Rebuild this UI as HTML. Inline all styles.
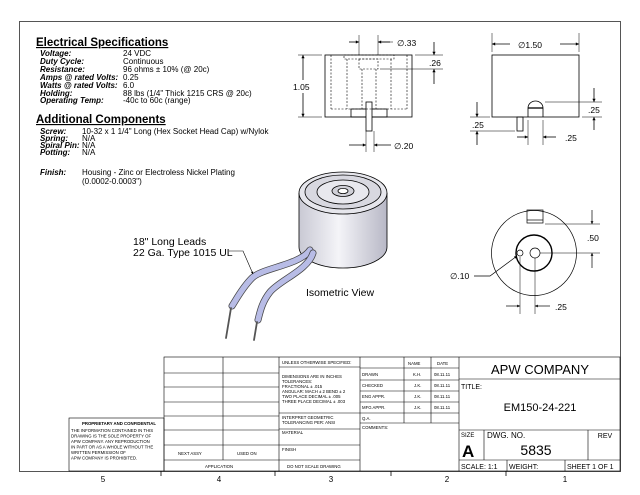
<!DOCTYPE html>
<html><head><meta charset="utf-8"><style>
html,body{margin:0;padding:0;background:#fff}
svg{display:block}
text{font-family:"Liberation Sans",sans-serif;fill:#000}
</style></head><body>
<svg width="640" height="495" viewBox="0 0 640 495" xmlns="http://www.w3.org/2000/svg">
<defs>
<marker id="a" viewBox="0 0 10 10" refX="10" refY="5" markerWidth="6" markerHeight="4" orient="auto-start-reverse"><path d="M0,0L10,5L0,10z" fill="#000"/></marker>
<linearGradient id="cyl" x1="0" x2="1"><stop offset="0" stop-color="#c9c9d4"/><stop offset="0.45" stop-color="#f4f4f8"/><stop offset="1" stop-color="#b8b8c6"/></linearGradient>
</defs>
<!-- border -->
<rect x="19.5" y="21.5" width="601" height="450" fill="none" stroke="#555" stroke-width="1"/>
<g stroke="#000" stroke-width="0.8">
<line x1="161" y1="471" x2="161" y2="476"/><line x1="275" y1="471" x2="275" y2="476"/><line x1="391" y1="471" x2="391" y2="476"/><line x1="506" y1="471" x2="506" y2="476"/>
</g>
<g font-size="8" text-anchor="middle">
<text x="103" y="482">5</text><text x="219" y="482">4</text><text x="331" y="482">3</text><text x="447" y="482">2</text><text x="565" y="482">1</text>
</g>

<!-- specs text -->
<g font-size="8">
<text x="36" y="46" font-size="11.5" font-weight="bold" text-decoration="underline">Electrical Specifications</text>
<g font-weight="bold" font-style="italic">
<text x="40" y="56">Voltage:</text><text x="40" y="64">Duty Cycle:</text><text x="40" y="72">Resistance:</text><text x="40" y="80">Amps @ rated Volts:</text><text x="40" y="88">Watts @ rated Volts:</text><text x="40" y="96">Holding:</text><text x="40" y="103">Operating Temp:</text>
</g>
<text x="123" y="56">24 VDC</text><text x="123" y="64">Continuous</text><text x="123" y="72">96 ohms ± 10% (@ 20c)</text><text x="123" y="80">0.25</text><text x="123" y="88">6.0</text><text x="123" y="96">88 lbs (1/4" Thick 1215 CRS @ 20c)</text><text x="123" y="103">-40c to 60c (range)</text>
<text x="36" y="123" font-size="11.5" font-weight="bold" text-decoration="underline">Additional Components</text>
<g font-weight="bold" font-style="italic">
<text x="40" y="134">Screw:</text><text x="40" y="141">Spring:</text><text x="40" y="148">Spiral Pin:</text><text x="40" y="155">Potting:</text><text x="40" y="175">Finish:</text>
</g>
<text x="82" y="134">10-32 x 1 1/4" Long (Hex Socket Head Cap) w/Nylok</text><text x="82" y="141">N/A</text><text x="82" y="148">N/A</text><text x="82" y="155">N/A</text>
<text x="82" y="175">Housing - Zinc or Electroless Nickel Plating</text><text x="82" y="184">(0.0002-0.0003")</text>
</g>

<!-- front view -->
<g fill="none" stroke="#000" stroke-width="0.8">
<rect x="325" y="55" width="87" height="62"/>
<rect x="351" y="109" width="36" height="8"/>
<rect x="366" y="102" width="6" height="29" fill="#fff"/>
<g stroke-dasharray="2,1.5" stroke-width="0.6">
<line x1="331" y1="55" x2="331" y2="109"/><line x1="407" y1="55" x2="407" y2="109"/>
<line x1="331" y1="109" x2="407" y2="109"/>
<rect x="344" y="55" width="50" height="4"/>
<line x1="347" y1="59" x2="347" y2="109"/><line x1="391" y1="59" x2="391" y2="109"/>
<rect x="359" y="59" width="19" height="10"/>
<line x1="362" y1="69" x2="362" y2="109"/><line x1="376" y1="69" x2="376" y2="109"/>
</g>
<line x1="359" y1="35" x2="359" y2="55" stroke-width="0.5"/><line x1="378" y1="35" x2="378" y2="55" stroke-width="0.5"/>
<line x1="349" y1="42" x2="359" y2="42" marker-end="url(#a)"/><line x1="390" y1="42" x2="378" y2="42" marker-end="url(#a)"/>
<line x1="378" y1="42" x2="393" y2="42" stroke-width="0.5"/>
<line x1="298" y1="55" x2="322" y2="55" stroke-width="0.5"/><line x1="298" y1="117" x2="322" y2="117" stroke-width="0.5"/>
<line x1="303" y1="80" x2="303" y2="55" marker-end="url(#a)"/><line x1="303" y1="93" x2="303" y2="117" marker-end="url(#a)"/>
<line x1="415" y1="55" x2="443" y2="55" stroke-width="0.5"/><line x1="380" y1="69" x2="443" y2="69" stroke-width="0.5"/>
<line x1="434" y1="42" x2="434" y2="55" marker-end="url(#a)"/><line x1="434" y1="84" x2="434" y2="69" marker-end="url(#a)"/>
<line x1="366" y1="131" x2="366" y2="152" stroke-width="0.5"/><line x1="374" y1="131" x2="374" y2="152" stroke-width="0.5"/>
<line x1="349" y1="145" x2="366" y2="145" marker-end="url(#a)"/><line x1="391" y1="145" x2="374" y2="145" marker-end="url(#a)"/>
</g>
<g font-size="8.5">
<text x="397" y="46">∅.33</text><text x="293" y="90">1.05</text><text x="429" y="66">.26</text><text x="394" y="149">∅.20</text>
</g>

<!-- side view -->
<g fill="none" stroke="#000" stroke-width="0.8">
<rect x="492" y="55" width="87" height="62"/>
<path d="M528,117 V108 A7.5,7 0 0 1 543,108 V117"/><line x1="528" y1="108" x2="543" y2="108" stroke-width="1.3"/>
<rect x="517" y="117" width="6" height="14"/>
<line x1="492" y1="33" x2="492" y2="52" stroke-width="0.5"/><line x1="579" y1="33" x2="579" y2="52" stroke-width="0.5"/>
<line x1="510" y1="44" x2="492" y2="44" marker-end="url(#a)"/><line x1="560" y1="44" x2="579" y2="44" marker-end="url(#a)"/>
<line x1="545" y1="102" x2="602" y2="102" stroke-width="0.5"/>
<line x1="594" y1="88" x2="594" y2="102" marker-end="url(#a)"/><line x1="594" y1="130" x2="594" y2="117" marker-end="url(#a)"/>
<line x1="582" y1="117" x2="602" y2="117" stroke-width="0.5"/>
<line x1="470" y1="131" x2="515" y2="131" stroke-width="0.5"/><line x1="470" y1="117" x2="490" y2="117" stroke-width="0.5"/>
<line x1="477" y1="102" x2="477" y2="117" marker-end="url(#a)"/><line x1="477" y1="145" x2="477" y2="131" marker-end="url(#a)"/>
<line x1="528" y1="120" x2="528" y2="145" stroke-width="0.5"/><line x1="543" y1="120" x2="543" y2="145" stroke-width="0.5"/>
<line x1="517" y1="137" x2="528" y2="137" marker-end="url(#a)"/><line x1="556" y1="137" x2="543" y2="137" marker-end="url(#a)"/>
</g>
<g font-size="8.5"><text x="518" y="48">∅1.50</text><text x="588" y="113">.25</text><text x="472" y="128">.25</text><text x="565" y="141">.25</text></g>

<!-- bottom view -->
<g fill="none" stroke="#000" stroke-width="0.7">
<circle cx="534" cy="253" r="42.5"/>
<circle cx="534" cy="253" r="18" stroke-width="1.4"/>
<circle cx="535" cy="253" r="5"/>
<circle cx="520" cy="253" r="3"/>
<rect x="527" y="210" width="16" height="13"/><line x1="527" y1="220" x2="543" y2="220"/>
<line x1="545" y1="224" x2="600" y2="224" stroke-width="0.5"/><line x1="540" y1="253" x2="600" y2="253" stroke-width="0.5"/>
<line x1="592" y1="210" x2="592" y2="224" marker-end="url(#a)"/><line x1="592" y1="268" x2="592" y2="253" marker-end="url(#a)"/>
<line x1="520" y1="257" x2="520" y2="314" stroke-width="0.5"/><line x1="535" y1="258" x2="535" y2="314" stroke-width="0.5"/>
<line x1="506" y1="306" x2="520" y2="306" marker-end="url(#a)"/><line x1="550" y1="306" x2="535" y2="306" marker-end="url(#a)"/>
<path d="M474,276 H490 L517,256" marker-end="url(#a)"/>
</g>
<g font-size="8.5"><text x="587" y="241">.50</text><text x="450" y="279">∅.10</text><text x="555" y="310">.25</text></g>

<!-- isometric -->
<g stroke="#000" stroke-width="0.8">
<path d="M299,193 V247 A44,21 0 0 0 387,247 V193" fill="url(#cyl)"/>
<ellipse cx="343" cy="193" rx="44" ry="21" fill="#e6e6ec"/>
<ellipse cx="343" cy="192" rx="38" ry="17" fill="#d8d8e0"/>
<ellipse cx="343" cy="192" rx="26" ry="12" fill="#e8e8ee"/>
<ellipse cx="343" cy="191" rx="11" ry="5.5" fill="#d0d0d8"/>
<ellipse cx="343" cy="191" rx="5" ry="2.6" fill="#fff"/>
</g>
<g fill="none" stroke-linecap="round">
<path d="M310,250 C300,265 262,268 252,278 C242,288 236,300 232,306" stroke="#444" stroke-width="7"/>
<path d="M310,250 C300,265 262,268 252,278 C242,288 236,300 232,306" stroke="#b8bce6" stroke-width="5.5"/>
<path d="M313,253 C308,270 280,280 270,292 C262,302 260,312 258,320" stroke="#444" stroke-width="7"/>
<path d="M313,253 C308,270 280,280 270,292 C262,302 260,312 258,320" stroke="#b8bce6" stroke-width="5.5"/>
<line x1="231" y1="308" x2="226" y2="338" stroke="#555" stroke-width="1.8"/>
<line x1="257" y1="322" x2="254" y2="340" stroke="#555" stroke-width="1.8"/>
</g>
<path d="M229,251 H243 L253,274" fill="none" stroke="#000" stroke-width="0.6" marker-end="url(#a)"/>
<g font-size="10.5"><text x="133" y="245">18" Long Leads</text><text x="133" y="256">22 Ga. Type 1015 UL</text><text x="306" y="296">Isometric View</text></g>

<!-- title block -->
<g fill="none" stroke="#000" stroke-width="0.6">
<rect x="164" y="357" width="456" height="114"/>
<rect x="69" y="418" width="95" height="53"/>
<line x1="223" y1="357" x2="223" y2="460"/>
<line x1="279" y1="357" x2="279" y2="471"/>
<line x1="360" y1="357" x2="360" y2="471"/>
<line x1="459" y1="357" x2="459" y2="471"/>
<line x1="164" y1="373" x2="279" y2="373"/><line x1="164" y1="387" x2="279" y2="387"/><line x1="164" y1="402" x2="279" y2="402"/><line x1="164" y1="416" x2="279" y2="416"/><line x1="164" y1="430" x2="279" y2="430"/><line x1="164" y1="445" x2="279" y2="445"/><line x1="164" y1="460" x2="279" y2="460"/>
<line x1="279" y1="367" x2="360" y2="367"/><line x1="279" y1="413" x2="360" y2="413"/><line x1="279" y1="429" x2="360" y2="429"/><line x1="279" y1="445" x2="360" y2="445"/><line x1="279" y1="460" x2="360" y2="460"/>
<line x1="404" y1="357" x2="404" y2="423"/><line x1="431" y1="357" x2="431" y2="423"/>
<line x1="360" y1="368" x2="459" y2="368"/><line x1="360" y1="380" x2="459" y2="380"/><line x1="360" y1="391" x2="459" y2="391"/><line x1="360" y1="402" x2="459" y2="402"/><line x1="360" y1="413" x2="459" y2="413"/><line x1="360" y1="423" x2="459" y2="423"/>
<line x1="459" y1="379" x2="620" y2="379"/><line x1="459" y1="430" x2="620" y2="430"/><line x1="459" y1="460" x2="620" y2="460"/>
<line x1="484" y1="430" x2="484" y2="460"/><line x1="588" y1="430" x2="588" y2="460"/>
<line x1="507" y1="460" x2="507" y2="471"/><line x1="565" y1="460" x2="565" y2="471"/>
</g>
<g font-size="4.3">
<text x="82" y="425" font-weight="bold">PROPRIETARY AND CONFIDENTIAL</text>
<text x="71" y="432">THE INFORMATION CONTAINED IN THIS</text><text x="71" y="437.5">DRAWING IS THE SOLE PROPERTY OF</text><text x="71" y="443">APW COMPANY.  ANY REPRODUCTION</text><text x="71" y="448.5">IN PART OR AS A WHOLE WITHOUT THE</text><text x="71" y="454">WRITTEN PERMISSION OF</text><text x="71" y="459.5">APW COMPANY IS PROHIBITED.</text>
<text x="178" y="455">NEXT ASSY</text><text x="237" y="455">USED ON</text><text x="205" y="468">APPLICATION</text>
<text x="282" y="364">UNLESS OTHERWISE SPECIFIED:</text>
<text x="282" y="378">DIMENSIONS ARE IN INCHES</text><text x="282" y="383">TOLERANCES:</text><text x="282" y="388">FRACTIONAL ± .015</text><text x="282" y="393">ANGULAR: MACH ± 2   BEND ± 2</text><text x="282" y="398">TWO PLACE DECIMAL   ± .005</text><text x="282" y="403">THREE PLACE DECIMAL  ± .003</text>
<text x="282" y="419">INTERPRET GEOMETRIC</text><text x="282" y="424">TOLERANCING PER: ANSI</text>
<text x="282" y="434">MATERIAL</text><text x="282" y="451">FINISH</text><text x="287" y="468">DO NOT SCALE DRAWING</text>
<text x="408" y="365">NAME</text><text x="437" y="365">DATE</text>
<text x="362" y="376">DRAWN</text><text x="362" y="387">CHECKED</text><text x="362" y="398">ENG APPR.</text><text x="362" y="409">MFG APPR.</text><text x="362" y="420">Q.A.</text><text x="362" y="429">COMMENTS:</text>
<text x="413" y="376">K.H.</text><text x="414" y="387">J.K.</text><text x="414" y="398">J.K.</text><text x="414" y="409">J.K.</text>
<text x="434" y="376">08.11.11</text><text x="434" y="387">08.11.11</text><text x="434" y="398">08.11.11</text><text x="434" y="409">08.11.11</text>
</g>
<text x="540" y="374" font-size="13" text-anchor="middle">APW COMPANY</text>
<text x="461" y="389" font-size="7">TITLE:</text>
<text x="540" y="411" font-size="11" text-anchor="middle">EM150-24-221</text>
<text x="461" y="437" font-size="6">SIZE</text>
<text x="462" y="457" font-size="17" font-weight="bold">A</text>
<text x="487" y="438" font-size="8">DWG.  NO.</text>
<text x="536" y="455" font-size="14" text-anchor="middle">5835</text>
<text x="605" y="438" font-size="7" text-anchor="middle">REV</text>
<text x="461" y="469" font-size="7">SCALE: 1:1</text><text x="509" y="469" font-size="7">WEIGHT:</text><text x="567" y="469" font-size="7">SHEET 1 OF 1</text>
</svg>
</body></html>
